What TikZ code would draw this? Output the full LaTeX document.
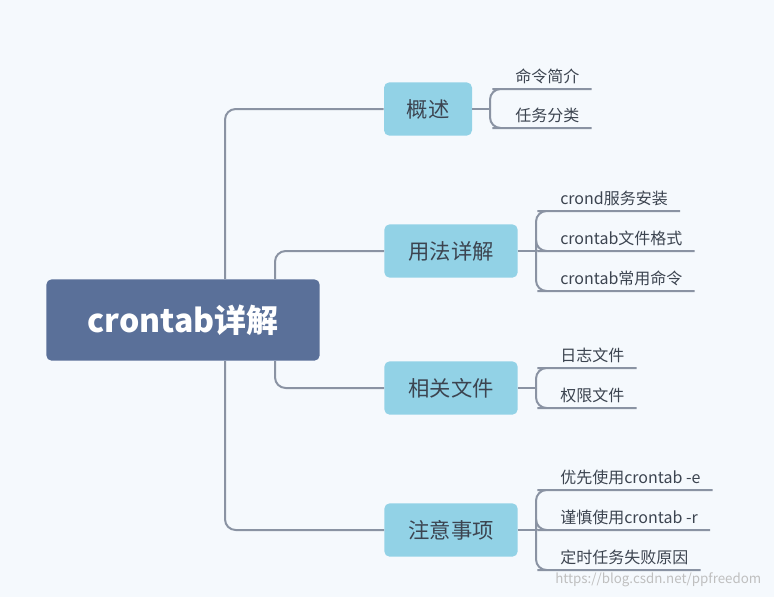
\documentclass[tikz,border=0pt]{standalone}
\usepackage{fontspec}
\setmainfont{Noto Sans CJK SC}
\usepackage{tikz}
\definecolor{bgc}{HTML}{F5F9FD}
\definecolor{rootc}{HTML}{5A7099}
\definecolor{topicc}{HTML}{92D2E6}
\definecolor{linec}{HTML}{8A93A3}
\definecolor{textc}{HTML}{3C4450}
\tikzset{
  rootbox/.style={fill=rootc, rounded corners=4pt, text=white, font=\fontsize{24}{28}\selectfont\bfseries, minimum width=205pt, minimum height=61pt},
  topicbox/.style={fill=topicc, rounded corners=4pt, text=textc, font=\fontsize{16}{20}\selectfont, minimum height=40pt, inner xsep=10pt},
  leafbox/.style={anchor=south west, text=textc, font=\fontsize{12}{14}\selectfont, inner xsep=9pt, inner ysep=4pt},
  branch/.style={draw=linec, line width=1.5pt, rounded corners=8pt},
}
\begin{document}
\begin{tikzpicture}[x=0.75pt,y=-0.75pt]
   \fill[bgc] (0,0) rectangle (774,597);

   \node[rootbox] (root) at (183,320) {crontab详解};

   \node[topicbox, minimum width=66pt] (gaishu) at (428,109) {概述};
   \node[topicbox, minimum width=100pt] (yongfa) at (451,251) {用法详解};
   \node[topicbox, minimum width=100pt] (xiangguan) at (451,388) {相关文件};
   \node[topicbox, minimum width=100pt] (zhuyi) at (451,530) {注意事项};

   % trunk
   \draw[branch] (225,279) |- (gaishu.west);
   \draw[branch] (275,279) |- (yongfa.west);
   \draw[branch] (275,361) |- (xiangguan.west);
   \draw[branch] (225,361) |- (zhuyi.west);

   % leaves
   \coordinate (f1) at (490,109);
   \node[leafbox] (l11) at (503,89) {命令简介};
   \node[leafbox] (l12) at (503,128) {任务分类};
   \draw[branch] (gaishu.east) -- (f1);
   \foreach \l in {l11,l12}
     \draw[branch] (f1) |- (\l.south west) -- (\l.south east);

   \coordinate (f2) at (536,251);
   \node[leafbox] (l21) at (548,211) {crond服务安装};
   \node[leafbox] (l22) at (548,251) {crontab文件格式};
   \node[leafbox] (l23) at (548,291) {crontab常用命令};
   \draw[branch] (yongfa.east) -- (f2);
   \foreach \l in {l21,l22,l23}
     \draw[branch] (f2) |- (\l.south west) -- (\l.south east);

   \coordinate (f3) at (536,388);
   \node[leafbox] (l31) at (548,368) {日志文件};
   \node[leafbox] (l32) at (548,408) {权限文件};
   \draw[branch] (xiangguan.east) -- (f3);
   \foreach \l in {l31,l32}
     \draw[branch] (f3) |- (\l.south west) -- (\l.south east);

   \coordinate (f4) at (536,530);
   \node[leafbox] (l41) at (548,490) {优先使用crontab -e};
   \node[leafbox] (l42) at (548,530) {谨慎使用crontab -r};
   \node[leafbox] (l43) at (548,570) {定时任务失败原因};
   \draw[branch] (zhuyi.east) -- (f4);
   \foreach \l in {l41,l42,l43}
     \draw[branch] (f4) |- (\l.south west) -- (\l.south east);

   \node[text=black!25, font=\fontsize{10}{12}\selectfont, anchor=east] (mark) at (766,580) {https://blog.csdn.net/ppfreedom};
\end{tikzpicture}
\end{document}
